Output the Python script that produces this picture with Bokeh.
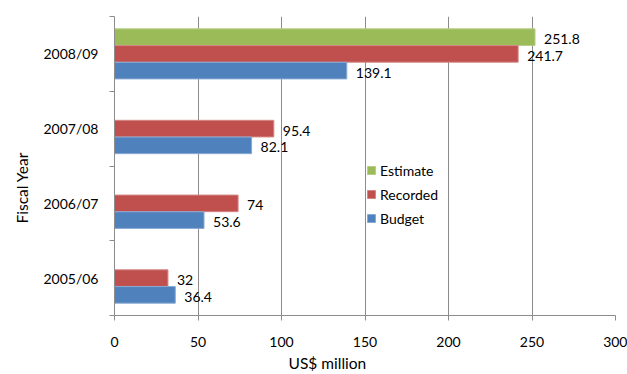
from bokeh.plotting import figure
from bokeh.models import (ColumnDataSource, FixedTicker, Title, Legend, LegendItem, Range1d)
from bokeh.transform import dodge
from bokeh.core.properties import value
from bokeh.embed import file_html
from bokeh.resources import INLINE

years = ["2005/06", "2006/07", "2007/08", "2008/09"]
budget = [36.4, 53.6, 82.1, 139.1]
recorded = [32, 74, 95.4, 241.7]
estimate_years = ["2008/09"]
estimate = [251.8]
x_ticks = [0, 50, 100, 150, 200, 250, 300]

FONT = "Lato"
C_EST = "#9BBB59"
C_REC = "#C0504D"
C_BUD = "#4F81BD"
GRID = "#8C8C8C"

pos = {y: i + 0.5 for i, y in enumerate(years)}

src_bud = ColumnDataSource(dict(y=[pos[y] for y in years], v=budget, t=[f"{v:g}" for v in budget]))
src_rec = ColumnDataSource(dict(y=[pos[y] for y in years], v=recorded, t=[f"{v:g}" for v in recorded]))
src_est = ColumnDataSource(dict(y=[pos[y] for y in estimate_years], v=estimate, t=[f"{v:g}" for v in estimate]))

p = figure(width=627, height=374, output_backend="svg", toolbar_location=None,
           x_range=Range1d(0, 300), y_range=Range1d(0, len(years)),
           min_border_left=114, min_border_right=12, min_border_top=16, min_border_bottom=59)
p.outline_line_color = None

H = 0.222
OFF = 0.224
r_est = p.hbar(y=dodge("y", OFF), right="v", left=0, height=H, source=src_est,
               fill_color=C_EST, line_color="#B5CD85", line_width=1)
r_rec = p.hbar(y=dodge("y", 0), right="v", left=0, height=H, source=src_rec,
               fill_color=C_REC, line_color="#D58785", line_width=1)
r_bud = p.hbar(y=dodge("y", -OFF), right="v", left=0, height=H, source=src_bud,
               fill_color=C_BUD, line_color="#8AAAD3", line_width=1)

for src, off in ((src_est, OFF), (src_rec, 0), (src_bud, -OFF)):
    p.text(x="v", y=dodge("y", off), text="t", source=src, x_offset=9, y_offset=2,
           text_baseline="middle", text_align="left", text_font=value(FONT),
           text_font_size="14px", text_color="#000000")

# x axis
p.xaxis.ticker = FixedTicker(ticks=x_ticks)
p.xaxis.axis_line_color = GRID
p.xaxis.major_tick_line_color = GRID
p.xaxis.major_tick_out = 5
p.xaxis.major_tick_in = 0
p.xaxis.minor_tick_line_color = None
p.xaxis.major_label_standoff = 16
p.xaxis.major_label_text_font = FONT
p.xaxis.major_label_text_font_size = "14px"
p.xaxis.major_label_text_color = "#000000"

# y axis
p.yaxis.ticker = FixedTicker(ticks=[pos[y] for y in years], minor_ticks=list(range(len(years) + 1)))
p.yaxis.major_label_overrides = {pos[y]: y for y in years}
p.yaxis.axis_line_color = GRID
p.yaxis.major_tick_line_color = None
p.yaxis.major_tick_out = 0
p.yaxis.major_tick_in = 0
p.yaxis.minor_tick_line_color = GRID
p.yaxis.minor_tick_out = 5
p.yaxis.minor_tick_in = 0
p.yaxis.major_label_standoff = 11
p.yaxis.major_label_text_font = FONT
p.yaxis.major_label_text_font_size = "14px"
p.yaxis.major_label_text_color = "#000000"

p.xgrid.ticker = FixedTicker(ticks=x_ticks)
p.xgrid.grid_line_color = GRID
p.ygrid.grid_line_color = None

legend = Legend(items=[LegendItem(label="Estimate", renderers=[r_est]),
                       LegendItem(label="Recorded", renderers=[r_rec]),
                       LegendItem(label="Budget", renderers=[r_bud])],
                location=(252, 87))
legend.background_fill_alpha = 0
legend.border_line_color = None
legend.padding = 0
legend.margin = 0
legend.spacing = 4
legend.glyph_width = 10
legend.glyph_height = 10
legend.label_height = 20
legend.label_standoff = 4
legend.label_text_font = FONT
legend.label_text_font_size = "14px"
legend.label_text_color = "#000000"
p.add_layout(legend)

# axis titles as side titles, positioned like the reference
xtitle = Title(text="US$ million", align="left", offset=174, standoff=4,
               text_font=FONT, text_font_size="15.5px", text_font_style="normal",
               text_color="#000000")
ytitle = Title(text="Fiscal Year", align="left", offset=92, standoff=19,
               text_font=FONT, text_font_size="15.5px", text_font_style="normal",
               text_color="#000000")
p.add_layout(xtitle, "below")
p.add_layout(ytitle, "left")

open("out.html", "w").write(file_html(p, INLINE))
